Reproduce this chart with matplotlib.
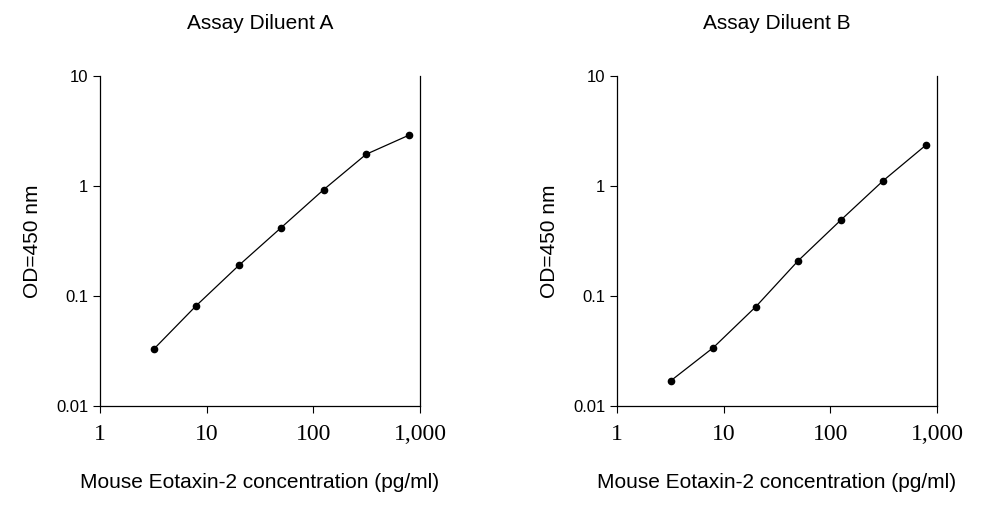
import matplotlib
matplotlib.use("Agg")
import matplotlib.pyplot as plt
from matplotlib.ticker import FixedLocator, NullLocator

conc = [3.2, 8.0, 20.0, 50.0, 125.0, 312.5, 781.25]
od_a = [0.033, 0.082, 0.19, 0.42, 0.93, 1.95, 2.9]
od_b = [0.017, 0.034, 0.08, 0.21, 0.49, 1.12, 2.35]
titles = ["Assay Diluent A", "Assay Diluent B"]
xticks = [1, 10, 100, 1000]
xlabels = ["1", "10", "100", "1,000"]
yticks = [0.01, 0.1, 1, 10]
ylabels = ["0.01", "0.1", "1", "10"]

plt.rcParams["font.family"] = "Liberation Sans"
fig = plt.figure(figsize=(9.95, 5.05), dpi=100)
for i, (od, t) in enumerate(zip([od_a, od_b], titles)):
    ax = fig.add_axes([0.1005 + i * 0.5196, 0.196, 0.3216, 0.653])
    ax.plot(conc, od, color="black", lw=0.9, marker="o", ms=4.5)
    ax.set_xscale("log"); ax.set_yscale("log")
    ax.set_xlim(1, 1000); ax.set_ylim(0.01, 10)
    ax.xaxis.set_major_locator(FixedLocator(xticks)); ax.set_xticklabels(xlabels, fontfamily="Liberation Serif")
    ax.yaxis.set_major_locator(FixedLocator(yticks)); ax.set_yticklabels(ylabels)
    ax.xaxis.set_minor_locator(NullLocator()); ax.yaxis.set_minor_locator(NullLocator())
    ax.tick_params(axis="x", labelsize=17, direction="out", length=5, pad=8)
    ax.tick_params(axis="y", labelsize=12, direction="out", length=5)
    ax.spines["top"].set_visible(False)
    for s in ax.spines.values():
        s.set_linewidth(0.9)
    ax.set_title(t, fontsize=15, pad=34)
    ax.set_xlabel("Mouse Eotaxin-2 concentration (pg/ml)", fontsize=15, labelpad=20)
    ax.set_ylabel("OD=450 nm", fontsize=15, labelpad=10)
fig.savefig("out.png", dpi=100)
